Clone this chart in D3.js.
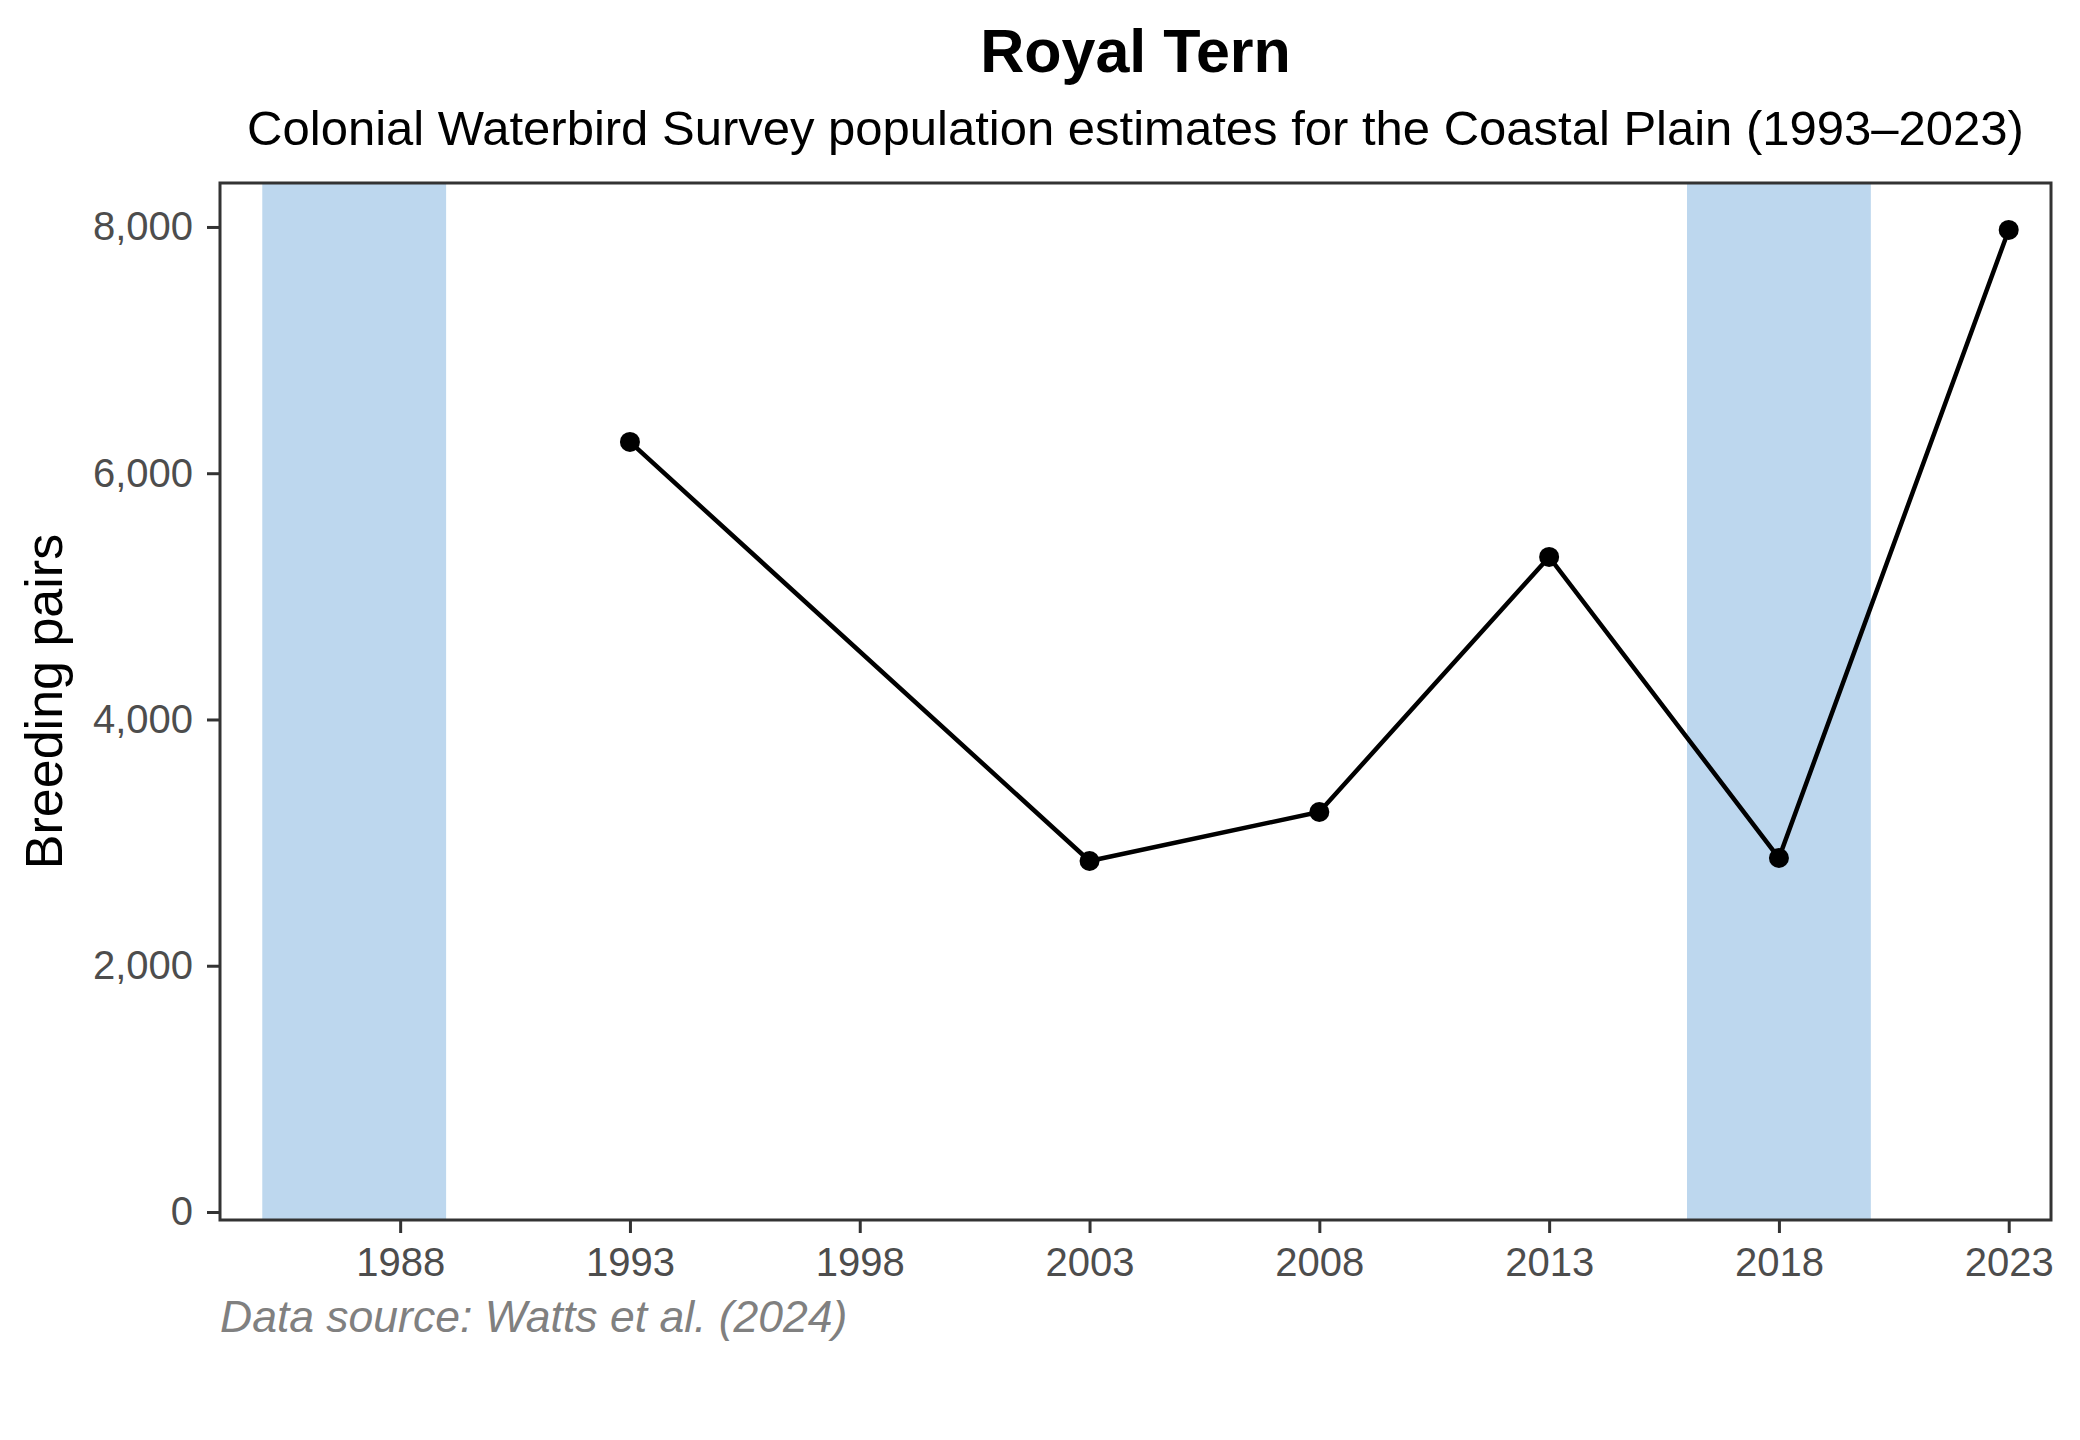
<!DOCTYPE html>
<html>
<head>
<meta charset="utf-8">
<script src="https://cdn.jsdelivr.net/npm/d3@7"></script>
<style>
  body { margin: 0; background: #fff; }
  svg { display: block; font-family: "Liberation Sans", Arial, sans-serif; }
</style>
</head>
<body>
<svg id="chart" width="2080" height="1440"></svg>
<script>
// Royal Tern -- breeding pairs on the Coastal Plain

var years = [1993, 2003, 2008, 2013, 2018, 2023];
var pairs = [6254, 2851, 3249, 5320, 2875, 7976];

// shaded survey windows
var bandStart = [1985, 2016];
var bandEnd = [1989, 2020];

var xTicks = [1988, 1993, 1998, 2003, 2008, 2013, 2018, 2023];
var yTicks = [0, 2000, 4000, 6000, 8000];

var panel = {left: 220, right: 2051, top: 183, bottom: 1220};

var svg = d3.select("#chart");

var x = d3.scaleLinear().domain([1984.08, 2023.92]).range([panel.left, panel.right]);
var y = d3.scaleLinear().domain([-65, 8357]).range([panel.bottom, panel.top]);

///////////////////////////////////////////////////////////////////////////////
// Titles

svg.append("text")
  .attr("x", (panel.left + panel.right) / 2).attr("y", 72)
  .attr("text-anchor", "middle")
  .style("font-size", "61px").style("font-weight", "bold")
  .text("Royal Tern");

svg.append("text")
  .attr("x", (panel.left + panel.right) / 2).attr("y", 145)
  .attr("text-anchor", "middle")
  .style("font-size", "49px")
  .text("Colonial Waterbird Survey population estimates for the Coastal Plain (1993\u20132023)");

///////////////////////////////////////////////////////////////////////////////
// Panel contents

var bands = d3.range(bandStart.length).map(function (i) {
  return {x0: bandStart[i], x1: bandEnd[i]};
});

svg.append("g").selectAll("rect")
  .data(bands)
  .enter().append("rect")
  .attr("x", function (d) { return x(d.x0); })
  .attr("width", function (d) { return x(d.x1) - x(d.x0); })
  .attr("y", panel.top)
  .attr("height", panel.bottom - panel.top)
  .attr("fill", "#bdd7ee");

var points = years.map(function (yr, i) { return {year: yr, value: pairs[i]}; });

var line = d3.line()
  .x(function (d) { return x(d.year); })
  .y(function (d) { return y(d.value); });

svg.append("path")
  .datum(points)
  .attr("d", line)
  .attr("fill", "none")
  .attr("stroke", "#000")
  .attr("stroke-width", 4.5);

svg.append("g").selectAll("circle")
  .data(points)
  .enter().append("circle")
  .attr("cx", function (d) { return x(d.year); })
  .attr("cy", function (d) { return y(d.value); })
  .attr("r", 10)
  .attr("fill", "#000");

///////////////////////////////////////////////////////////////////////////////
// Axes

var yAxis = svg.append("g")
  .attr("transform", "translate(" + panel.left + ",0)")
  .call(d3.axisLeft(y).tickValues(yTicks).tickFormat(d3.format(","))
    .tickSize(13).tickSizeOuter(0).tickPadding(14));

var xAxis = svg.append("g")
  .attr("transform", "translate(0," + panel.bottom + ")")
  .call(d3.axisBottom(x).tickValues(xTicks).tickFormat(d3.format("d"))
    .tickSize(13).tickSizeOuter(0));

[yAxis, xAxis].forEach(function (ax) {
  ax.select(".domain").remove();
  ax.selectAll(".tick line").attr("stroke", "#333").attr("stroke-width", 3);
  ax.selectAll(".tick text")
    .attr("fill", "#4d4d4d")
    .style("font-size", "40px")
    .style("font-family", "'Liberation Sans', Arial, sans-serif");
});

xAxis.selectAll(".tick text").attr("dy", null).attr("y", 56);

svg.append("rect")
  .attr("x", panel.left).attr("y", panel.top)
  .attr("width", panel.right - panel.left).attr("height", panel.bottom - panel.top)
  .attr("fill", "none")
  .attr("stroke", "#333")
  .attr("stroke-width", 3);

svg.append("text")
  .attr("transform", "translate(62," + (panel.top + panel.bottom) / 2 + ") rotate(-90)")
  .attr("text-anchor", "middle")
  .style("font-size", "52px")
  .text("Breeding pairs");

svg.append("text")
  .attr("x", panel.left).attr("y", 1332)
  .style("font-size", "44.5px").style("font-style", "italic")
  .attr("fill", "#808080")
  .text("Data source: Watts et al. (2024)");
</script>
</body>
</html>
